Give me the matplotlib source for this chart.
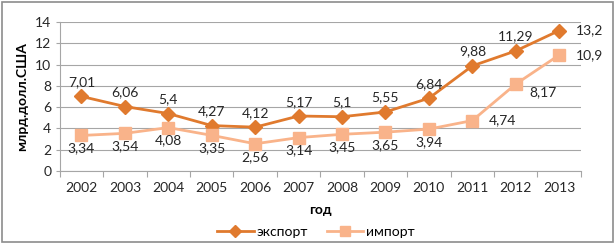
import matplotlib
matplotlib.use("Agg")
import matplotlib.pyplot as plt
from matplotlib.patches import Rectangle

# ─── Data ─────────────────────────────────────────────────────────────────────
years = ["2002", "2003", "2004", "2005", "2006", "2007",
         "2008", "2009", "2010", "2011", "2012", "2013"]
export = [7.01, 6.06, 5.4, 4.27, 4.12, 5.17, 5.1, 5.55, 6.84, 9.88, 11.29, 13.2]
imports = [3.34, 3.54, 4.08, 3.35, 2.56, 3.14, 3.45, 3.65, 3.94, 4.74, 8.17, 10.9]
yticks = [0, 2, 4, 6, 8, 10, 12, 14]

C_EXP = "#E07A2E"
C_IMP = "#F9B38A"
GRID = "#A6A6A6"
FS = 10

plt.rcParams["font.family"] = ["Lato", "DejaVu Sans"]

fig = plt.figure(figsize=(6.16, 2.45), dpi=100)
ax = fig.add_axes([0.097, 0.302, 0.846, 0.608])

x = list(range(len(years)))
ax.plot(x, export, color=C_EXP, lw=2.0, marker="D", ms=7, label="экспорт", zorder=3)
ax.plot(x, imports, color=C_IMP, lw=2.0, marker="s", ms=9, label="импорт", zorder=3)

def fmt(v):
    return f"{v:g}".replace(".", ",")

for i, v in enumerate(export):
    if i == len(export) - 1:
        ax.annotate(fmt(v), (i, v), xytext=(12, 0), textcoords="offset points",
                    ha="left", va="center", fontsize=FS, color="#262626")
    else:
        ax.annotate(fmt(v), (i, v), xytext=(0, 6), textcoords="offset points",
                    ha="center", va="bottom", fontsize=FS, color="#262626")

for i, v in enumerate(imports):
    if i == 9 or i == 11:
        ax.annotate(fmt(v), (i, v), xytext=(12, 0), textcoords="offset points",
                    ha="left", va="center", fontsize=FS, color="#262626")
    elif i == 10:
        ax.annotate(fmt(v), (i, v), xytext=(10, -6), textcoords="offset points",
                    ha="left", va="center", fontsize=FS, color="#262626")
    else:
        ax.annotate(fmt(v), (i, v), xytext=(0, -5), textcoords="offset points",
                    ha="center", va="top", fontsize=FS, color="#262626")

ax.set_xlim(-0.5, len(years) - 0.5)
ax.set_ylim(0, 14)
ax.set_yticks(yticks)
ax.set_yticklabels([str(t) for t in yticks], fontsize=FS, color="#262626")
ax.set_xticks(x)
ax.set_xticklabels(years, fontsize=FS, color="#262626")
ax.set_xticks([i - 0.5 for i in range(len(years) + 1)], minor=True)
ax.tick_params(axis="x", which="major", length=0, pad=8)
ax.tick_params(axis="x", which="minor", length=4, color=GRID, width=0.8)
ax.tick_params(axis="y", length=3, color=GRID, width=0.8, pad=3)

ax.grid(axis="y", color=GRID, lw=0.8, zorder=0)
for s in ["top", "right"]:
    ax.spines[s].set_visible(False)
for s in ["left", "bottom"]:
    ax.spines[s].set_color(GRID)
    ax.spines[s].set_linewidth(0.8)

ax.set_ylabel("млрд.долл.США", fontsize=FS, fontweight="bold", labelpad=5)
ax.set_xlabel("год", fontsize=FS, fontweight="bold", labelpad=7)

fig.legend(loc="center", bbox_to_anchor=(0.513, 0.052), ncol=2, frameon=False,
           fontsize=FS, handlelength=2.6, columnspacing=1.4, handletextpad=0.2,
           markerscale=0.85)

fig.patches.append(Rectangle((0.003, 0.012), 0.992, 0.98, transform=fig.transFigure,
                             fill=False, edgecolor="#8C8C8C", lw=1.2))

fig.savefig("out.png", dpi=100)
